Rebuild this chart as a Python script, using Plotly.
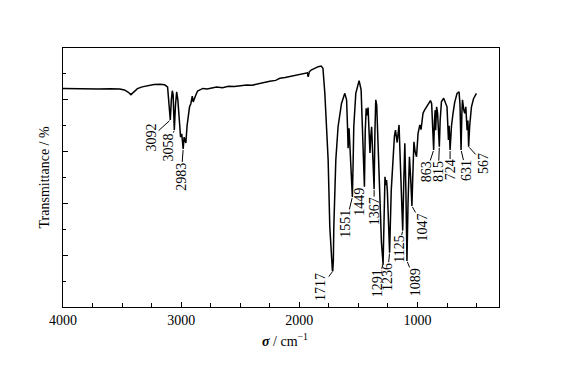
import plotly.graph_objects as go

# ---- spectrum data (wavenumber / cm-1, transmittance / %) ----
wavenumber = [
    4000, 3900, 3800, 3700, 3600, 3520, 3480, 3450, 3425, 3400, 3370, 3330, 3280, 3230,
    3180, 3140, 3115, 3105, 3092, 3083, 3075, 3068, 3058, 3048, 3038, 3028, 3016, 3005,
    2995, 2983, 2975, 2967, 2960, 2950, 2940, 2929, 2918, 2906, 2898, 2890, 2880, 2861,
    2840, 2816, 2780, 2729, 2700, 2650, 2600, 2550, 2500, 2446, 2400, 2350, 2300, 2250,
    2200, 2165, 2120, 2080, 2040, 2000, 1968, 1940, 1932, 1925, 1915, 1900, 1870, 1840,
    1815, 1800, 1784, 1770, 1756, 1742, 1727, 1720, 1717, 1712, 1708, 1691, 1672, 1643,
    1615, 1600, 1592, 1587, 1579, 1564, 1551, 1545, 1539, 1522, 1494, 1477, 1466, 1449,
    1442, 1434, 1426, 1418, 1410, 1402, 1395, 1388, 1378, 1367, 1360, 1353, 1345, 1335,
    1320, 1305, 1291, 1283, 1275, 1268, 1262, 1255, 1245, 1236, 1222, 1206, 1195, 1186,
    1172, 1156, 1145, 1135, 1125, 1115, 1107, 1098, 1089, 1080, 1068, 1058, 1047, 1040,
    1030, 1020, 1008, 995, 980, 970, 953, 940, 924, 905, 890, 880, 872, 863, 856, 850,
    846, 838, 830, 822, 815, 808, 797, 778, 765, 750, 738, 732, 724, 712, 699, 685, 665,
    648, 640, 631, 624, 619, 608, 600, 591, 580, 573, 567, 558, 543, 525, 501,
]
transmittance = [
    84.4, 84.3, 84.4, 84.2, 84.3, 84.2, 83.8, 83.0, 82.0, 83.2, 84.3, 85.0, 85.6, 85.9,
    86.0, 85.8, 85.0, 80.0, 72.2, 80.0, 83.5, 82.0, 68.3, 78.0, 83.1, 80.0, 70.9, 65.6,
    66.9, 61.0, 65.6, 64.0, 63.3, 70.0, 73.8, 77.3, 78.5, 81.4, 79.2, 80.5, 81.4, 83.4,
    83.8, 84.4, 84.2, 84.6, 84.9, 84.7, 85.2, 85.1, 85.5, 85.7, 85.6, 86.2, 86.6, 87.2,
    87.5, 88.3, 88.6, 89.0, 89.3, 89.8, 90.2, 90.6, 90.4, 88.9, 90.8, 91.5, 92.2, 92.8,
    93.0, 92.2, 82.5, 70.0, 56.8, 31.0, 15.6, 14.0, 13.8, 18.0, 31.0, 56.8, 69.6, 78.6,
    82.5, 80.0, 69.6, 61.3, 69.0, 56.8, 42.5, 55.0, 69.6, 82.5, 87.4, 83.8, 69.6, 46.4,
    68.0, 76.7, 74.0, 77.0, 68.0, 59.5, 66.0, 69.6, 58.0, 45.5, 68.0, 80.0, 78.0, 65.0,
    45.0, 25.0, 16.5, 35.0, 50.3, 47.0, 49.0, 45.0, 32.0, 21.0, 45.0, 58.0, 66.0, 68.3,
    63.5, 70.3, 55.0, 38.0, 29.5, 50.0, 63.2, 45.0, 17.8, 40.0, 58.0, 50.0, 39.0, 50.0,
    63.8, 60.0, 58.0, 67.0, 70.3, 68.5, 74.8, 76.0, 77.3, 79.0, 79.7, 78.5, 72.0, 60.6,
    72.0, 76.0, 68.3, 77.3, 75.0, 70.0, 61.9, 72.0, 79.3, 80.6, 79.0, 77.3, 64.5, 70.0,
    60.6, 70.0, 74.8, 79.0, 82.5, 83.1, 78.0, 60.6, 75.0, 80.0, 76.0, 74.8, 77.3, 68.3,
    72.0, 61.9, 70.0, 77.3, 80.5, 82.5,
]

# ---- peak labels ----
peak_labels = ["3092", "3058", "2983", "1717", "1551", "1449", "1367", "1291", "1236",
               "1125", "1089", "1047", "863", "815", "724", "631", "567"]
peak_wn = [3092, 3058, 2983, 1717, 1551, 1449, 1367, 1291, 1236,
           1125, 1089, 1047, 863, 815, 724, 631, 567]
peak_T = [72.2, 68.3, 61.0, 13.8, 42.5, 46.4, 45.5, 16.5, 21.0,
          29.5, 17.8, 39.0, 60.6, 61.9, 60.6, 60.6, 61.9]
# label text offsets from the peak (pixels)
label_ax = [-19.7, -6, -2, -12, -6.5, -4.5, 0, -6, -2.3, -4, 8.5, 11.5, -7, -1, 0, 5, 15]
label_ay = [18, 17, 27.5, 16, 27, 15, 22, 19, 24, 18.5, 21, 21, 21.5, 25, 20, 21, 16.6]

x_tick_vals = [4000, 3000, 2000, 1000]
x_tick_text = ["4000", "3000", "2000", "1000"]

FONT = "Liberation Serif"

fig = go.Figure()
fig.add_trace(go.Scatter(
    x=wavenumber, y=transmittance, mode="lines",
    line=dict(color="black", width=1.5), hoverinfo="skip", showlegend=False,
))

for txt, w, t, ax, ay in zip(peak_labels, peak_wn, peak_T, label_ax, label_ay):
    fig.add_annotation(
        x=w, y=t, xref="x", yref="y", text=txt, textangle=-90,
        showarrow=True, arrowhead=0, arrowwidth=1, arrowcolor="black",
        ax=ax, ay=ay, standoff=1, borderpad=0,
        font=dict(family=FONT, size=14, color="black"),
    )

fig.add_annotation(
    x=-0.0413, y=0.5, xref="paper", yref="paper", text="Transmittance / %",
    textangle=-90, showarrow=False, xanchor="center", yanchor="middle",
    font=dict(family=FONT, size=14, color="black"),
)
fig.add_annotation(
    x=0.509, y=-0.127, xref="paper", yref="paper",
    text="<b><i>σ</i></b> / cm<sup>−1</sup>",
    showarrow=False, xanchor="center", yanchor="middle",
    font=dict(family=FONT, size=14, color="black"),
)

# the page body adds an 8 px margin, so the figure is 8 px smaller and shifted
fig.update_layout(
    width=562, height=376,
    margin=dict(l=55, r=71, t=40, b=77),
    paper_bgcolor="white", plot_bgcolor="white",
    font=dict(family=FONT, size=14, color="black"),
    xaxis=dict(
        range=[4000, 310], showgrid=False, zeroline=False,
        showline=True, linecolor="black", linewidth=1, mirror=True,
        tickmode="array", tickvals=x_tick_vals, ticktext=x_tick_text,
        ticks="inside", ticklen=5, tickwidth=1, tickcolor="black",
        minor=dict(dtick=250, ticks="inside", ticklen=4, tickwidth=1, tickcolor="black", showgrid=False),
        tickfont=dict(family=FONT, size=14, color="black"),
    ),
    yaxis=dict(
        range=[0, 100], showgrid=False, zeroline=False,
        showline=True, linecolor="black", linewidth=1, mirror=True,
        dtick=20, tick0=0, ticks="inside", ticklen=5, tickwidth=1, tickcolor="black",
        minor=dict(dtick=10, ticks="inside", ticklen=3, tickwidth=1, tickcolor="black", showgrid=False),
        showticklabels=False,
    ),
)

fig.write_html("out.html")
